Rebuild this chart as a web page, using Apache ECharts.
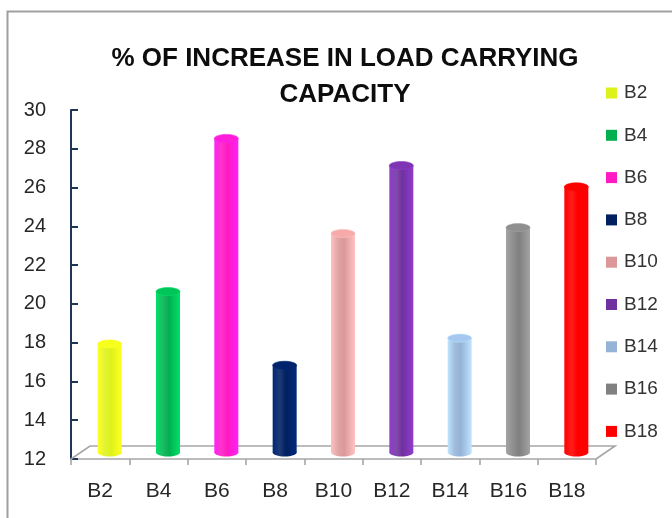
<!DOCTYPE html>
<html>
<head>
<meta charset="utf-8">
<title>% of increase in load carrying capacity</title>
<script src="https://cdn.jsdelivr.net/npm/echarts@6/dist/echarts.min.js"></script>
<style>
  html, body { margin: 0; padding: 0; background: #ffffff; }
  #chart { width: 672px; height: 518px; }
</style>
</head>
<body>
<div id="chart"></div>
<script>
// Beam designations and the % increase in load carrying capacity of each
const categories = ['B2', 'B4', 'B6', 'B8', 'B10', 'B12', 'B14', 'B16', 'B18'];
const increase = [17.6, 20.3, 28.2, 16.5, 23.3, 26.8, 17.9, 23.6, 25.7];
const barColors = ['#DDF21A', '#00B050', '#FF1AC2', '#002060', '#DC9898', '#7030A0', '#95B3D7', '#808080', '#FF0000'];

// Value axis range and step
const yMin = 12;
const yMax = 30;
const yStep = 2;

const FONT = '"Liberation Sans", Arial, sans-serif';
// Perspective offset of the floor's back edge (pixels); bars stand half way back
const DEPTH_X = 19;
const DEPTH_Y = -13;
const BAR_W = 24;
const CAP_RY = 4;

const chart = echarts.init(document.getElementById('chart'), null, { renderer: 'canvas' });

function cylinderItem(color) {
  const dark = echarts.color.lift(color, -0.28);
  const light = echarts.color.lift(color, 0.12);
  return function (params, api) {
    const idx = api.value(0);
    const top = api.coord([idx, api.value(1)]);
    const base = api.coord([idx, yMin]);
    const cx = top[0] + DEPTH_X / 2;
    const ty = top[1] + DEPTH_Y / 2;
    const by = base[1] + DEPTH_Y / 2;
    const fill = {
      type: 'linear', x: 0, y: 0, x2: 1, y2: 0,
      colorStops: [
        { offset: 0, color: dark },
        { offset: 0.3, color: light },
        { offset: 0.55, color: color },
        { offset: 1, color: dark }
      ]
    };
    return {
      type: 'group',
      children: [
        { type: 'ellipse', shape: { cx: cx, cy: by, rx: BAR_W / 2, ry: CAP_RY }, style: { fill: fill } },
        { type: 'rect', shape: { x: cx - BAR_W / 2, y: ty, width: BAR_W, height: by - ty }, style: { fill: fill } },
        { type: 'ellipse', shape: { cx: cx, cy: ty, rx: BAR_W / 2, ry: CAP_RY },
          style: { fill: echarts.color.lift(color, -0.12), stroke: dark, lineWidth: 0.6 } }
      ]
    };
  };
}

// Floor of the plot: front edge follows the category axis, back edge is pushed by the depth offset
function floorItem(params, api) {
  const left = api.coord([0, yMin]);
  const cs = params.coordSys;
  const x0 = cs.x, x1 = cs.x + cs.width, y0 = left[1];
  return {
    type: 'polyline',
    shape: { points: [[x0, y0], [x0 + DEPTH_X, y0 + DEPTH_Y], [x1 + DEPTH_X, y0 + DEPTH_Y], [x1, y0]] },
    style: { stroke: '#A6A6A6', lineWidth: 1.6, fill: null },
    silent: true
  };
}

const series = [{
  name: 'floor',
  type: 'custom',
  data: [[0, yMin]],
  renderItem: floorItem,
  silent: true,
  z: 1,
  clip: false
}];
categories.forEach(function (name, i) {
  series.push({
    name: name,
    type: 'custom',
    data: [[i, increase[i]]],
    encode: { x: 0, y: 1 },
    itemStyle: { color: barColors[i] },
    renderItem: cylinderItem(barColors[i]),
    clip: false,
    z: 3
  });
});

chart.setOption({
  backgroundColor: '#ffffff',
  animation: false,
  title: {
    text: '% OF INCREASE IN LOAD CARRYING\nCAPACITY',
    left: 340,
    top: 36,
    textAlign: 'center',
    textStyle: { fontFamily: FONT, fontSize: 26, fontWeight: 'bold', color: '#0d0d0d', lineHeight: 36 }
  },
  legend: {
    data: categories,
    orient: 'vertical',
    left: 601,
    top: 78,
    itemWidth: 11,
    itemHeight: 11,
    itemGap: 22.3,
    icon: 'rect',
    selectedMode: false,
    textStyle: { fontFamily: FONT, fontSize: 19, color: '#333333', lineHeight: 20, padding: [0, 0, 0, 2] }
  },
  grid: { left: 71, right: 76, top: 110, bottom: 59, containLabel: false },
  xAxis: {
    type: 'category',
    data: categories,
    boundaryGap: true,
    axisLine: { lineStyle: { color: '#A6A6A6', width: 1.6 } },
    axisTick: { show: true, length: 6, lineStyle: { color: '#A6A6A6', width: 1.6 } },
    axisLabel: { margin: 22, fontFamily: FONT, fontSize: 21, color: '#262626' },
    splitLine: { show: false }
  },
  yAxis: {
    type: 'value',
    min: yMin,
    max: yMax,
    interval: yStep,
    axisLine: { show: true, lineStyle: { color: '#1F3556', width: 2 } },
    axisTick: { show: true, inside: true, length: 7, lineStyle: { color: '#1F3556', width: 2 } },
    axisLabel: { margin: 25, fontFamily: FONT, fontSize: 20, color: '#262626' },
    splitLine: { show: false }
  },
  graphic: [{
    type: 'rect',
    left: 5,
    top: 9,
    shape: { width: 720, height: 540 },
    style: { fill: null, stroke: '#A0A0A0', lineWidth: 2 },
    silent: true,
    z: -1
  }],
  series: series
});
</script>
</body>
</html>
